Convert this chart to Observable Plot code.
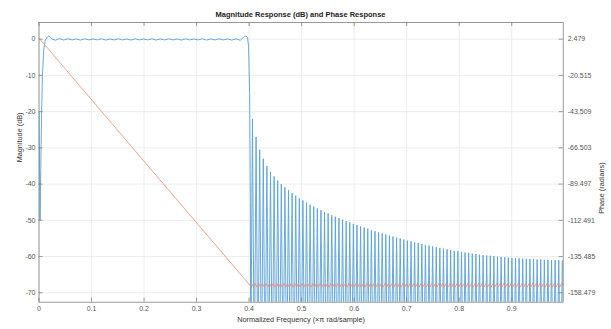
<!DOCTYPE html>
<html><head><meta charset="utf-8">
<script src="https://cdn.jsdelivr.net/npm/d3@7"></script>
<script src="https://cdn.jsdelivr.net/npm/@observablehq/plot@0.6"></script>
<style>
body{margin:0;background:#fff;font-family:"Liberation Sans",Arial,sans-serif}
#title{width:611px;height:20px;box-sizing:border-box;padding:10px 48px 0 38px;line-height:10px;font-size:7.5px;font-weight:bold;color:#222;text-align:center;white-space:nowrap}
#chart svg{display:block}
</style></head><body>
<div id="title">Magnitude Response (dB) and Phase Response</div>
<div id="chart"></div>
<script>
// ---- data ----
const xTicks = [0, 0.1, 0.2, 0.3, 0.4, 0.5, 0.6, 0.7, 0.8, 0.9];
const xTickLabels = ["0", "0.1", "0.2", "0.3", "0.4", "0.5", "0.6", "0.7", "0.8", "0.9"];
const magTicks = [0, -10, -20, -30, -40, -50, -60, -70];
const magTickLabels = ["0", "-10", "-20", "-30", "-40", "-50", "-60", "-70"];
const phaseTickLabels = ["2.479", "-20.515", "-43.509", "-66.503", "-89.497", "-112.491", "-135.485", "-158.479"];

// passband magnitude: [normalized frequency, dB]
const passband = [
  [0, -20], [0.002, -50], [0.0034, -36], [0.005, -20], [0.0065, -10], [0.009, -3], [0.012, -0.3],
  [0.016, 0.6], [0.019, 0.9], [0.023, 0.2], [0.031, -0.3], [0.039, 0.15], [0.047, -0.25], [0.055, 0.1],
  [0.063, -0.2], [0.071, 0.05], [0.079, -0.25], [0.087, 0.1], [0.095, -0.2], [0.103, 0.05], [0.111, -0.2],
  [0.119, 0.1], [0.127, -0.25], [0.135, 0.05], [0.143, -0.2], [0.151, 0.1], [0.159, -0.2], [0.167, 0.05],
  [0.175, -0.25], [0.183, 0.1], [0.191, -0.2], [0.199, 0.05], [0.207, -0.2], [0.215, 0.1], [0.223, -0.25],
  [0.231, 0.05], [0.239, -0.2], [0.247, 0.1], [0.255, -0.2], [0.263, 0.05], [0.271, -0.25], [0.279, 0.1],
  [0.287, -0.2], [0.295, 0.05], [0.303, -0.2], [0.311, 0.1], [0.319, -0.25], [0.327, 0.05], [0.335, -0.2],
  [0.343, 0.1], [0.351, -0.2], [0.359, 0.05], [0.367, -0.25], [0.375, 0.1], [0.383, -0.3], [0.390, 0.6],
  [0.394, 0.9], [0.397, 0.5], [0.399, -2], [0.401, -15], [0.4025, -45]
];
// stopband: lobes between nulls, starting at stopStart, each lobeWidth wide; peak level of each lobe (dB)
const stopStart = 0.403;
const lobeWidth = 0.00686;
const nullDb = -95;
const stopPeaks = [
  -22, -27, -30.5, -33, -35, -36.6, -37.9, -39, -40, -40.9,
  -41.7, -42.5, -43.2, -43.9, -44.5, -45.1, -45.7, -46.2, -46.7, -47.2,
  -47.7, -48.1, -48.6, -49, -49.4, -49.8, -50.2, -50.6, -51, -51.3,
  -51.7, -52, -52.3, -52.7, -53, -53.3, -53.6, -53.9, -54.2, -54.5,
  -54.8, -55, -55.3, -55.6, -55.8, -56.1, -56.3, -56.5, -56.8, -57,
  -57.2, -57.4, -57.6, -57.8, -58, -58.2, -58.4, -58.5, -58.7, -58.9,
  -59, -59.2, -59.3, -59.5, -59.6, -59.7, -59.8, -59.9, -60, -60.1,
  -60.2, -60.3, -60.4, -60.4, -60.5, -60.6, -60.6, -60.7, -60.7, -60.8,
  -60.8, -60.9, -60.9, -61, -61, -61, -61.1
];
// phase (radians)
const phasePass = [[0, 3.14], [0.4025, -154.1]];
const phaseStopHigh = -152.6;
const phaseStopLow = -154.9;

// ---- build tables ----
const magData = passband.map(([f, db]) => ({f, db}));
stopPeaks.forEach((p, i) => {
  const f0 = stopStart + i * lobeWidth;
  magData.push({f: f0, db: nullDb});
  magData.push({f: f0 + lobeWidth / 2, db: p});
});
magData.push({f: stopStart + stopPeaks.length * lobeWidth, db: nullDb});

const phaseData = phasePass.map(([f, rad]) => ({f, rad}));
stopPeaks.forEach((p, i) => {
  const f0 = stopStart + i * lobeWidth;
  phaseData.push({f: f0 + lobeWidth * 0.25, rad: phaseStopHigh});
  phaseData.push({f: f0 + lobeWidth * 0.75, rad: phaseStopLow});
});

// right axis is linear in the left one: phase = p0 + k * dB
const p0 = parseFloat(phaseTickLabels[0]);
const k = (parseFloat(phaseTickLabels[0]) - parseFloat(phaseTickLabels[1])) / (magTicks[0] - magTicks[1]);
const radToDb = r => (r - p0) / k;

const W = 611, H = 309, mL = 38.5, mR = 48.3, mT = 2, mB = 27.3;
const fw = W - mL - mR, fh = H - mT - mB;
const blue = "#5ea4d9", orange = "#e98a6e", tickCol = "#808080", grid = "#e8e8e8", txt = "#555";

const chart = Plot.plot({
  width: W, height: H,
  marginLeft: mL, marginRight: mR, marginTop: mT, marginBottom: mB,
  x: {domain: [0, 0.998]},
  y: {domain: [-72.6, 4.6]},
  style: {fontFamily: '"Liberation Sans", Arial, sans-serif', fontSize: "7px", color: txt, background: "#fff", overflow: "visible"},
  marks: [
    Plot.gridX(xTicks, {stroke: grid, strokeOpacity: 1, strokeWidth: 0.8}),
    Plot.gridY(magTicks, {stroke: grid, strokeOpacity: 1, strokeWidth: 0.8}),
    Plot.line(magData, {x: "f", y: "db", stroke: blue, strokeWidth: 0.95, clip: true}),
    Plot.line(phaseData, {x: "f", y: d => radToDb(d.rad), stroke: orange, strokeWidth: 0.8, clip: true}),
    Plot.frame({stroke: tickCol, strokeWidth: 0.8}),
    Plot.tickX(xTicks, {x: d => d, insetTop: fh - 4, stroke: tickCol, strokeWidth: 0.8}),
    Plot.tickX(xTicks, {x: d => d, insetBottom: fh - 4, stroke: tickCol, strokeWidth: 0.8}),
    Plot.tickY(magTicks, {y: d => d, insetRight: fw - 4, stroke: tickCol, strokeWidth: 0.8}),
    Plot.tickY(magTicks, {y: d => d, insetLeft: fw - 4, stroke: tickCol, strokeWidth: 0.8}),
    Plot.axisX(xTicks, {tickSize: 0, tickPadding: 4, tickFormat: d => xTickLabels[xTicks.indexOf(d)], label: null}),
    Plot.axisY(magTicks, {anchor: "left", tickSize: 0, tickPadding: 3.5, tickFormat: d => magTickLabels[magTicks.indexOf(d)], label: null}),
    Plot.axisY(magTicks, {anchor: "right", tickSize: 0, tickPadding: 4.5, tickFormat: d => phaseTickLabels[magTicks.indexOf(d)], label: null}),
    Plot.text(["Normalized Frequency (×π rad/sample)"], {frameAnchor: "bottom", dy: 20, fontSize: 7.3, fill: "#333"}),
    Plot.text(["Magnitude (dB)"], {frameAnchor: "left", dx: -19.5, rotate: -90, fontSize: 7.3, fill: "#333"}),
    Plot.text(["Phase (radians)"], {frameAnchor: "right", dx: 38.3, rotate: -90, fontSize: 7.3, fill: "#333"})
  ]
});
document.getElementById("chart").appendChild(chart);
</script>
</body></html>
